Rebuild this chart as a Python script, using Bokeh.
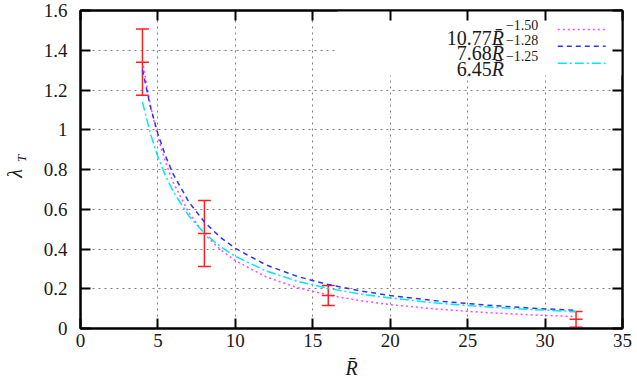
from bokeh.plotting import figure
from bokeh.layouts import row
from bokeh.models import (Range1d, LinearAxis, Whisker, TeeHead, ColumnDataSource,
                          FixedTicker, Label)
from bokeh.core.properties import value
from bokeh.embed import file_html
from bokeh.resources import INLINE
import math

# ---------------- data ----------------
R_data = [4, 8, 16, 32]
lam_data = [1.34, 0.478, 0.166, 0.046]
lam_err = [0.167, 0.166, 0.05, 0.04]

R_fit = [4, 4.5, 5, 5.5, 6, 7, 8, 9, 10, 12, 14, 16, 18, 20, 23, 26, 29, 32]
fit_a = [1.346, 1.128, 0.963, 0.835, 0.733, 0.582, 0.476, 0.399, 0.341, 0.259,
         0.206, 0.168, 0.141, 0.120, 0.098, 0.081, 0.069, 0.060]
fit_b = [1.302, 1.120, 0.979, 0.866, 0.775, 0.636, 0.536, 0.461, 0.403, 0.319,
         0.262, 0.221, 0.190, 0.166, 0.139, 0.119, 0.103, 0.091]
fit_c = [1.140, 0.984, 0.863, 0.766, 0.687, 0.566, 0.479, 0.414, 0.363, 0.289,
         0.238, 0.202, 0.174, 0.153, 0.128, 0.110, 0.096, 0.085]

legend_coef = ["10.77", "7.68", "6.45"]
legend_exp = ["\u22121.50", "\u22121.28", "\u22121.25"]

x_ticks = [0, 5, 10, 15, 20, 25, 30, 35]
y_ticks = [0, 0.2, 0.4, 0.6, 0.8, 1.0, 1.2, 1.4, 1.6]
y_tick_labels = ["0", "0.2", "0.4", "0.6", "0.8", "1", "1.2", "1.4", "1.6"]

SERIF = "Liberation Serif"
TXT = "#1a1a1a"

# ---------------- y-axis title strip ----------------
# its frame is aligned with the main frame (page y 10..328), so the range
# is chosen to map page pixels directly: y = 383 - page_y
side = figure(width=40, height=383, output_backend="svg", toolbar_location=None,
              x_range=Range1d(0, 40), y_range=Range1d(55, 373),
              x_axis_type=None, y_axis_type=None, min_border=0)
side.outline_line_color = None
side.background_fill_color = "white"
side.border_fill_color = "white"
side.grid.visible = False
side.text(x=[14], y=[210], text=["\u03bb"], angle=math.pi / 2,
          text_align="center", text_baseline="middle",
          text_font=value(SERIF), text_font_style="italic",
          text_font_size="20px", text_color=TXT)
side.text(x=[20.5], y=[225], text=["T"], angle=math.pi / 2,
          text_align="center", text_baseline="middle",
          text_font=value(SERIF), text_font_style="italic",
          text_font_size="13px", text_color=TXT)

# ---------------- main figure ----------------
p = figure(width=597, height=383, output_backend="svg", toolbar_location=None,
           x_range=Range1d(0, 35), y_range=Range1d(0, 1.6),
           min_border_left=38, min_border_right=15, min_border_top=10,
           min_border_bottom=55)
p.outline_line_color = "black"
p.outline_line_width = 2
p.background_fill_color = "white"
p.border_fill_color = "white"

for g in (p.xgrid, p.ygrid):
    g.grid_line_color = "#808080"
    g.grid_line_dash = "2 4"
    g.grid_line_width = 1
p.xgrid.ticker = FixedTicker(ticks=x_ticks)
p.ygrid.ticker = FixedTicker(ticks=y_ticks)

def style_axis(ax):
    ax.axis_line_width = 2
    ax.axis_line_color = "black"
    ax.major_tick_in = 10
    ax.major_tick_out = 0
    ax.major_tick_line_width = 2
    ax.major_tick_line_color = "black"
    ax.minor_tick_line_color = None
    ax.major_label_text_font = SERIF
    ax.major_label_text_font_size = "19px"
    ax.major_label_text_color = TXT

xa = p.xaxis[0]
ya = p.yaxis[0]
xa.ticker = FixedTicker(ticks=x_ticks)
ya.ticker = FixedTicker(ticks=y_ticks)
ya.major_label_overrides = {t: l for t, l in zip(y_ticks, y_tick_labels)}
style_axis(xa)
style_axis(ya)
xa.major_label_standoff = 5
ya.major_label_standoff = 13

xa.axis_label = "R\u0304"
xa.axis_label_text_font = SERIF
xa.axis_label_text_font_style = "italic"
xa.axis_label_text_font_size = "20px"
xa.axis_label_text_color = TXT
xa.axis_label_standoff = 7

top = LinearAxis(ticker=FixedTicker(ticks=x_ticks))
right = LinearAxis(ticker=FixedTicker(ticks=y_ticks))
for ax, tk in ((top, x_ticks), (right, y_ticks)):
    style_axis(ax)
    ax.major_label_overrides = {t: "" for t in tk}
    ax.major_label_standoff = 0
p.add_layout(top, "above")
p.add_layout(right, "right")

# key area blanks the grid (as gnuplot does)
p.quad(left=[16.6], right=[35], bottom=[1.273], top=[1.6],
       fill_color="white", line_color=None)

# fitted curves
p.line(R_fit, fit_a, line_color="#ff44ff", line_width=1.5, line_dash="2 3")
p.line(R_fit, fit_b, line_color="#3030ff", line_width=1.5, line_dash="5 4")
p.line(R_fit, fit_c, line_color="#00e8f0", line_width=1.5, line_dash="9 3 2 3")

# error bars
src = ColumnDataSource(dict(
    x=R_data, y=lam_data,
    lo=[v - e for v, e in zip(lam_data, lam_err)],
    hi=[v + e for v, e in zip(lam_data, lam_err)]))
wh = Whisker(base="x", lower="lo", upper="hi", source=src, dimension="height",
             line_color="#ff2020", line_width=1.5,
             upper_head=TeeHead(size=13, line_color="#ff2020", line_width=1.5),
             lower_head=TeeHead(size=13, line_color="#ff2020", line_width=1.5))
p.add_layout(wh)
p.scatter(x="x", y="y", source=src, marker="dash", size=13,
          line_color="#ff2020", line_width=1.5)

# ---------------- key ----------------
key_colors = ["#ff44ff", "#3030ff", "#00e8f0"]
key_dash = ["2 3", "5 4", "9 3 2 3"]
key_y = [1.505, 1.4195, 1.334]
key_base = [1.4625, 1.3845, 1.3065]
for i in range(3):
    yb = key_base[i]
    p.add_layout(Label(x=26.55, y=yb, text=legend_coef[i], text_align="right",
                       text_baseline="alphabetic", text_font=SERIF,
                       text_font_size="20px", text_color=TXT))
    p.add_layout(Label(x=26.55, y=yb, text="R\u0304", text_align="left",
                       text_baseline="alphabetic", text_font=SERIF,
                       text_font_style="italic",
                       text_font_size="20px", text_color=TXT))
    p.add_layout(Label(x=27.47, y=yb + 0.065, text=legend_exp[i], text_align="left",
                       text_baseline="alphabetic", text_font=SERIF,
                       text_font_size="14px", text_color=TXT))
    p.line([30.82, 33.91], [key_y[i], key_y[i]], line_color=key_colors[i],
           line_width=1.5, line_dash=key_dash[i])

layout = row(side, p, spacing=0)
open("out.html", "w").write(file_html(layout, INLINE))
